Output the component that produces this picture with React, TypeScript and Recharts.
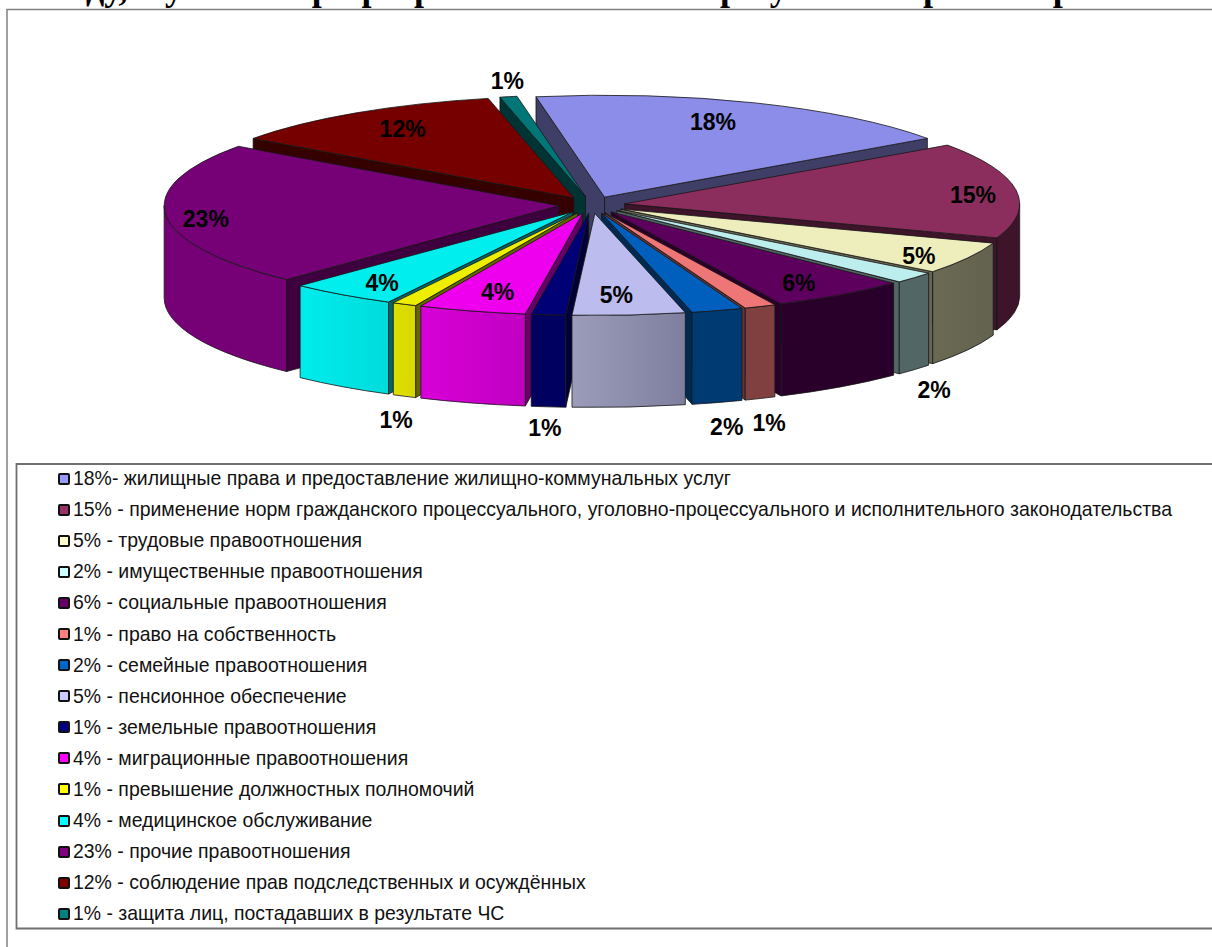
import { PieChart, Pie, Legend } from 'recharts';

const WIDTH = 1212;
const HEIGHT = 947;

// shares, labels show them rounded
const values = [18.0, 15.2, 5.1, 1.8, 5.6, 1.3, 2.1, 4.6, 1.4, 4.4, 1.0, 4.4, 22.8, 11.6, 0.7];

const legendLabels = [
  '18%- жилищные права и предоставление жилищно-коммунальных услуг',
  '15% - применение норм гражданского процессуального, уголовно-процессуального и исполнительного законодательства',
  '5% - трудовые правоотношения',
  '2% - имущественные правоотношения',
  '6% - социальные правоотношения',
  '1% - право на собственность',
  '2% - семейные правоотношения',
  '5% - пенсионное обеспечение',
  '1% - земельные правоотношения',
  '4% - миграционные правоотношения',
  '1% - превышение должностных полномочий',
  '4% - медицинское обслуживание',
  '23% - прочие правоотношения',
  '12% - соблюдение прав подследственных и осуждённых',
  '1% - защита лиц, постадавших в результате ЧС',
];

const legendColors = ['#9999ff', '#993366', '#ffffcc', '#ccffff', '#660066', '#ff8080', '#0066cc', '#ccccff', '#000080', '#ff00ff', '#ffff00', '#00ffff', '#800080', '#800000', '#008080'];
const topColors = ['#8c8ce9', '#8b2e5d', '#eeeebc', '#bceeee', '#5d005d', '#ee7676', '#005fbc', '#bcbcee', '#000076', '#ee00ee', '#eeee00', '#00eeee', '#760076', '#760000', '#007676'];
const sideColors = ['#3e3e66', '#3d1429', '#666652', '#526666', '#290029', '#663333', '#002a52', '#525266', '#000034', '#660066', '#666600', '#006666', '#3f003f', '#340000', '#003434'];
const wallFrom = ['#3e3e66', '#3d1429', '#6a6a54', '#526666', '#290029', '#804040', '#003a72', '#9c9cba', '#000060', '#d800d8', '#dede00', '#00ecec', '#760076', '#760000', '#007676'];
const wallTo = ['#3e3e66', '#3d1429', '#62624e', '#526666', '#290029', '#804040', '#003a72', '#7e7e9e', '#000060', '#c000c0', '#d8d800', '#00dcdc', '#760076', '#760000', '#007676'];

// back to front; the big 18% slice goes first, its wall shows only as a strip
const paintOrder = [0, 14, 13, 1, 12, 2, 3, 11, 4, 10, 5, 9, 6, 8, 7];

// label nudges from the rim midpoint of each slice
const labelDx = [-44, -48, -53, 16, -45, 7, 8, -13, -3, 27, -6, 43, 45, 49, 0];
const labelDy = [20, 5, -3, 112, -13, 115, 115, -21, 112, -20, 115, -13, 4, 17, -14];

const tableData = values.map((value, idx) => ({
  name: legendLabels[idx],
  value,
  idx,
  fill: legendColors[idx],
}));

const SQUASH = 0.258;
const DEPTH = 92;
const EXPLODE = 33;
const LABEL_RADIUS = 433;
const RAD = Math.PI / 180;

const Slice = (props: any) => {
  const { cx, cy, outerRadius: r, startAngle, endAngle, midAngle, idx } = props;
  const a1 = 90 - startAngle;
  const a2 = 90 - endAngle;
  const mid = 90 - midAngle;
  const ox = cx + EXPLODE * Math.sin(mid * RAD);
  const oy = cy - EXPLODE * SQUASH * Math.cos(mid * RAD);
  const rim = (a: number, drop = 0) => ({
    x: ox + r * Math.sin(a * RAD),
    y: oy - r * SQUASH * Math.cos(a * RAD) + drop,
  });
  const ry = r * SQUASH;
  const p1 = rim(a1);
  const p2 = rim(a2);

  const radialWall = (p: { x: number; y: number }) =>
    `M${ox},${oy} L${p.x},${p.y} L${p.x},${p.y + DEPTH} L${ox},${oy + DEPTH} Z`;

  const w1 = Math.max(a1, 90);
  const w2 = Math.min(a2, 270);
  let outer = '';
  if (w2 > w1) {
    const t1 = rim(w1);
    const t2 = rim(w2);
    outer = `M${t1.x},${t1.y} A${r},${ry} 0 0 1 ${t2.x},${t2.y} L${t2.x},${t2.y + DEPTH} A${r},${ry} 0 0 0 ${t1.x},${t1.y + DEPTH} Z`;
  }
  const stroke = { stroke: '#161616', strokeWidth: 0.8, strokeLinejoin: 'round' as const };

  return (
    <g>
      <defs>
        <linearGradient id={`wall-${idx}`} x1="0" y1="0" x2="1" y2="0">
          <stop offset="0" stopColor={wallFrom[idx]} />
          <stop offset="1" stopColor={wallTo[idx]} />
        </linearGradient>
      </defs>
      {Math.sin(a1 * RAD) < 0 && <path d={radialWall(p1)} fill={sideColors[idx]} {...stroke} />}
      {Math.sin(a2 * RAD) > 0 && <path d={radialWall(p2)} fill={sideColors[idx]} {...stroke} />}
      {outer && <path d={outer} fill={`url(#wall-${idx})`} {...stroke} />}
      <path
        d={`M${ox},${oy} L${p1.x},${p1.y} A${r},${ry} 0 0 1 ${p2.x},${p2.y} Z`}
        fill={topColors[idx]}
        {...stroke}
      />
    </g>
  );
};

const sliceShape = (paintIdx: number) => (props: any) =>
  props.idx === paintIdx ? <Slice {...props} /> : <g />;

const renderLabel = (props: any) => {
  const { cx, cy, midAngle, payload } = props;
  const idx = payload?.idx ?? props.idx;
  const mid = (90 - midAngle) * RAD;
  const x = cx + LABEL_RADIUS * Math.sin(mid) + labelDx[idx];
  const y = cy - LABEL_RADIUS * SQUASH * Math.cos(mid) + labelDy[idx];
  return (
    <text
      key={idx}
      x={x}
      y={y}
      textAnchor="middle"
      dominantBaseline="central"
      fontFamily="Liberation Sans"
      fontWeight="bold"
      fontSize={23}
      fill="#000"
    >
      {`${Math.round(values[idx])}%`}
    </text>
  );
};

const LegendBox = ({ payload }: any) => (
  <div style={{ fontFamily: 'Liberation Sans', fontSize: 19.45, color: '#111' }}>
    {(payload || []).slice(0, values.length).map((item: any) => (
      <div key={item.value} style={{ height: 31.1, display: 'flex', alignItems: 'center', whiteSpace: 'nowrap' }}>
        <span
          style={{
            width: 8,
            height: 8,
            border: '2px solid #111',
            borderRadius: 2,
            background: item.color,
            marginRight: 3,
            flex: 'none',
          }}
        />
        {item.value}
      </div>
    ))}
  </div>
);

export default function App() {
  return (
    <div style={{ position: 'absolute', left: 0, top: 0, width: WIDTH, height: HEIGHT, background: '#fff', overflow: 'hidden' }}>
      <PieChart width={WIDTH} height={HEIGHT} margin={{ top: 0, right: 0, bottom: 0, left: 0 }}>
        {/* the page title is cut by the top edge in the reference too */}
        <g fontFamily="Liberation Serif" fontWeight="bold" fontSize={36} fill="#000">
          <text x={86} y={0}>ду, в учёте</text>
          <text x={291} y={0}>при разрешении</text>
          <text x={560} y={0}>по итогам</text>
          <text x={720} y={0}>результатах рассмотрения</text>
        </g>
        <path d={`M7,${HEIGHT} L7,9.5 L${WIDTH},9.5`} fill="none" stroke="#808080" strokeWidth={1.5} />
        <path d={`M${WIDTH},464 L16.5,464 L16.5,928.5 L${WIDTH},928.5`} fill="none" stroke="#707070" strokeWidth={1.8} />
        {paintOrder.map((paintIdx) => (
          <Pie
            key={paintIdx}
            data={tableData}
            dataKey="value"
            nameKey="name"
            cx={592}
            cy={205}
            outerRadius={395}
            startAngle={100}
            endAngle={-260}
            stroke="none"
            shape={sliceShape(paintIdx)}
            isAnimationActive={false}
          />
        ))}
        <Pie
          data={tableData}
          dataKey="value"
          nameKey="name"
          cx={592}
          cy={205}
          outerRadius={395}
          startAngle={100}
          endAngle={-260}
          stroke="none"
          shape={() => <g />}
          label={renderLabel}
          labelLine={false}
          isAnimationActive={false}
        />
        <Legend
          content={<LegendBox />}
          itemSorter={null}
          wrapperStyle={{ position: 'absolute', left: 58, top: 463, width: 1150, bottom: 'auto' }}
        />
      </PieChart>
    </div>
  );
}
